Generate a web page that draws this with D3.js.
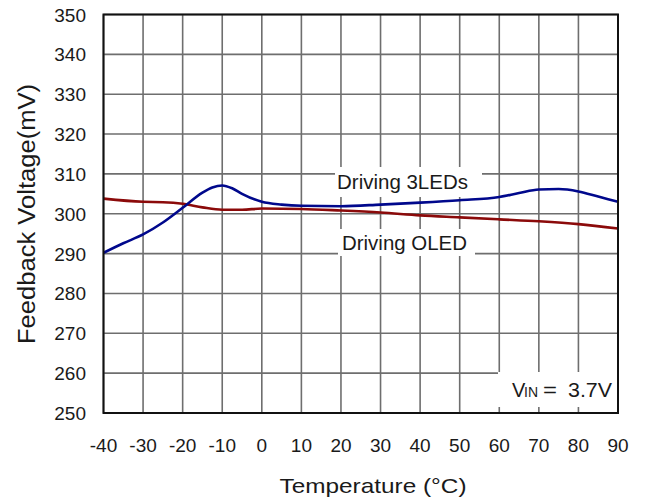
<!DOCTYPE html>
<html>
<head>
<meta charset="utf-8">
<script src="https://cdn.jsdelivr.net/npm/d3@7"></script>
<style>
  body { margin: 0; background: #fff; }
  svg { display: block; }
  text { font-family: "Liberation Sans", Arial, sans-serif; fill: #1a1a1a; }
</style>
</head>
<body>
<svg id="chart" width="646" height="500"></svg>
<script>
// ---- Data ----
const xTicks = [-40, -30, -20, -10, 0, 10, 20, 30, 40, 50, 60, 70, 80, 90];
const yTicks = [250, 260, 270, 280, 290, 300, 310, 320, 330, 340, 350];

const ledTemps = [-40, -35, -30, -25, -20, -15, -12.5, -10, -7.5, -5, 0, 5, 10, 20, 30, 40, 50, 60, 65, 70, 75, 80, 85, 90];
const ledVolts = [290.2, 292.6, 294.8, 297.8, 301.5, 305.3, 306.6, 307.1, 306.4, 305.0, 303.0, 302.3, 302.0, 301.9, 302.3, 302.8, 303.4, 304.2, 305.2, 306.1, 306.2, 305.6, 304.3, 303.0];

const oledTemps = [-40, -30, -25, -20, -15, -10, -5, 0, 10, 20, 30, 40, 50, 60, 70, 80, 90];
const oledVolts = [303.8, 303.0, 302.9, 302.5, 301.6, 301.0, 301.0, 301.3, 301.2, 300.8, 300.3, 299.6, 299.1, 298.6, 298.1, 297.4, 296.3];

const xLabel = "Temperature (\u00B0C)";
const yLabel = "Feedback Voltage(mV)";

// ---- Layout ----
const svg = d3.select("#chart");
const L = 103.5, R = 618, T = 14.5, B = 413;
const x = d3.scaleLinear().domain([-40, 90]).range([L, R]);
const y = d3.scaleLinear().domain([250, 350]).range([B, T]);

// grid
const grid = svg.append("g");
grid.selectAll("line.v").data(xTicks).enter().append("line")
  .attr("x1", d => x(d)).attr("x2", d => x(d)).attr("y1", T).attr("y2", B)
  .attr("stroke", "#6e6e6e").attr("stroke-width", 1.6);
grid.selectAll("line.h").data(yTicks).enter().append("line")
  .attr("x1", L).attr("x2", R).attr("y1", d => y(d)).attr("y2", d => y(d))
  .attr("stroke", "#6e6e6e").attr("stroke-width", 1.6);

// lines
const line = d3.line().x(d => x(d[0])).y(d => y(d[1])).curve(d3.curveMonotoneX);
svg.append("path").datum(oledTemps.map((t, i) => [t, oledVolts[i]]))
  .attr("d", line).attr("fill", "none").attr("stroke", "#8b0a0a").attr("stroke-width", 2.6);
svg.append("path").datum(ledTemps.map((t, i) => [t, ledVolts[i]]))
  .attr("d", line).attr("fill", "none").attr("stroke", "#00088c").attr("stroke-width", 2.6);

// label boxes
function box(x0, y0, x1, y1) {
  svg.append("rect").attr("x", x0).attr("y", y0).attr("width", x1 - x0).attr("height", y1 - y0).attr("fill", "#fff");
}
box(335, 167, 482, 197);
box(338, 229, 475, 256);
box(498, 372, 617, 407);

svg.append("text").attr("x", 337).attr("y", 189).attr("font-size", 20)
  .attr("textLength", 131).attr("lengthAdjust", "spacingAndGlyphs").text("Driving 3LEDs");
svg.append("text").attr("x", 342).attr("y", 250).attr("font-size", 20)
  .attr("textLength", 125).attr("lengthAdjust", "spacingAndGlyphs").text("Driving OLED");

// V_IN label
svg.append("text").attr("x", 512).attr("y", 397).attr("font-size", 20).text("V");
svg.append("text").attr("x", 524).attr("y", 397).attr("font-size", 15)
  .attr("textLength", 14).attr("lengthAdjust", "spacingAndGlyphs").text("IN");
svg.append("text").attr("x", 543).attr("y", 397).attr("font-size", 20)
  .attr("textLength", 14).attr("lengthAdjust", "spacingAndGlyphs").text("=");
svg.append("text").attr("x", 568).attr("y", 397).attr("font-size", 20)
  .attr("textLength", 44).attr("lengthAdjust", "spacingAndGlyphs").text("3.7V");

// frame
svg.append("rect").attr("x", L).attr("y", T).attr("width", R - L).attr("height", B - T)
  .attr("fill", "none").attr("stroke", "#111").attr("stroke-width", 2);

// tick labels
svg.selectAll("text.yt").data(yTicks).enter().append("text")
  .attr("x", 86).attr("y", d => y(d) + 7).attr("text-anchor", "end").attr("font-size", 19)
  .text(d => d);
svg.selectAll("text.xt").data(xTicks).enter().append("text")
  .attr("x", d => x(d)).attr("y", 452).attr("text-anchor", "middle").attr("font-size", 19)
  .text(d => d);

// axis titles
svg.append("text").attr("x", 373).attr("y", 493).attr("text-anchor", "middle").attr("font-size", 21)
  .attr("textLength", 187).attr("lengthAdjust", "spacingAndGlyphs").text(xLabel);
svg.append("text").attr("transform", "translate(35,214) rotate(-90)").attr("text-anchor", "middle")
  .attr("font-size", 23).attr("textLength", 260).attr("lengthAdjust", "spacingAndGlyphs").text(yLabel);
</script>
</body>
</html>
